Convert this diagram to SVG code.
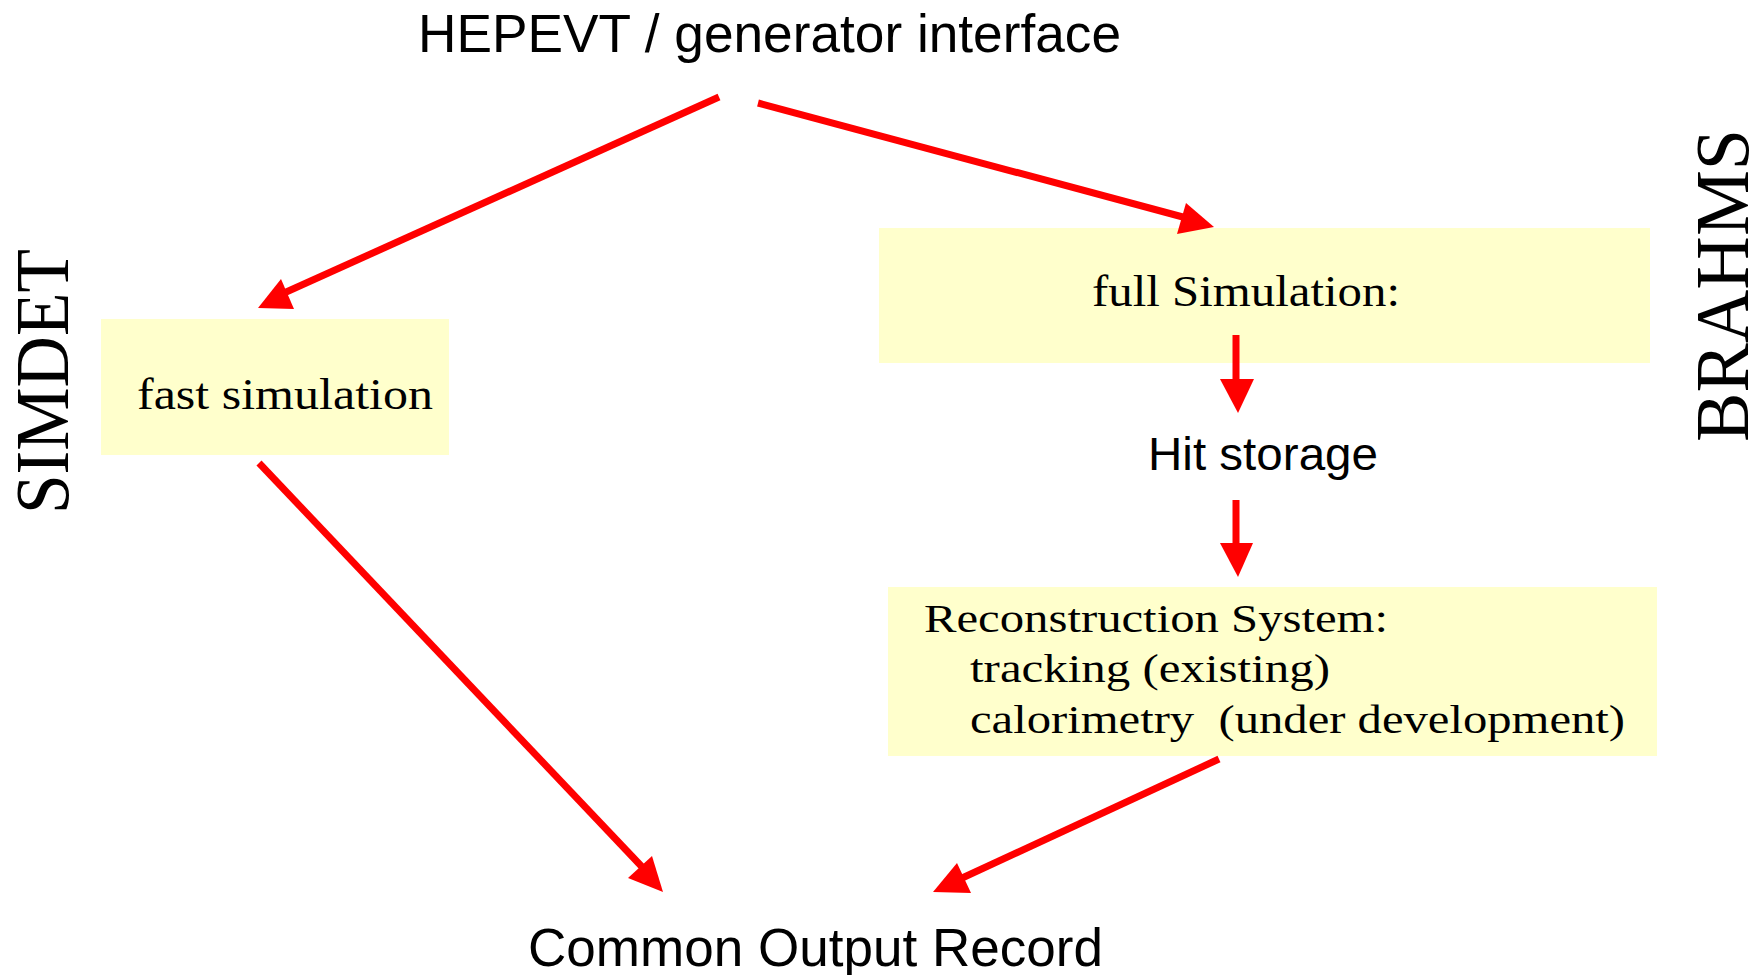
<svg xmlns="http://www.w3.org/2000/svg" width="1762" height="975" viewBox="0 0 1762 975">
<style>
.box{fill:#ffffcc;stroke:none}
.sans{font-family:"Liberation Sans",Arial,sans-serif;fill:#000}
.serif{font-family:"Liberation Serif","Times New Roman",serif;fill:#000}
.ln{stroke:#ff0000;stroke-width:7;fill:none;stroke-linecap:butt}
.hd{fill:#ff0000;stroke:none}
</style>
<rect width="1762" height="975" fill="#ffffff"/>
<g id="hepevt">
<text class="sans" x="418" y="52" font-size="53" textLength="703" lengthAdjust="spacingAndGlyphs">HEPEVT / generator interface</text>
</g>
<g id="simdet-label">
<text class="serif" transform="translate(68,514) rotate(-90)" x="0" y="0" font-size="77" textLength="265" lengthAdjust="spacingAndGlyphs">SIMDET</text>
</g>
<g id="brahms-label">
<text class="serif" transform="translate(1748,442) rotate(-90)" x="0" y="0" font-size="77" textLength="313" lengthAdjust="spacingAndGlyphs">BRAHMS</text>
</g>
<g id="fast-sim">
<rect class="box" x="101" y="319" width="348" height="136"/>
<text class="serif" x="137" y="409" font-size="45" textLength="296" lengthAdjust="spacingAndGlyphs">fast simulation</text>
</g>
<g id="full-sim">
<rect class="box" x="879" y="228" width="771" height="135"/>
<text class="serif" x="1092" y="306" font-size="45" textLength="308" lengthAdjust="spacingAndGlyphs">full Simulation:</text>
</g>
<g id="hit-storage">
<text class="sans" x="1148" y="470" font-size="47" textLength="230" lengthAdjust="spacingAndGlyphs">Hit storage</text>
</g>
<g id="reconstruction">
<rect class="box" x="888" y="587" width="769" height="169"/>
<text class="serif" x="924" y="632" font-size="40" textLength="464" lengthAdjust="spacingAndGlyphs">Reconstruction System:</text>
<text class="serif" x="970" y="682" font-size="40" textLength="360" lengthAdjust="spacingAndGlyphs">tracking (existing)</text>
<text class="serif" x="970" y="733" font-size="40" textLength="655" lengthAdjust="spacingAndGlyphs" xml:space="preserve">calorimetry  (under development)</text>
</g>
<g id="common-output">
<text class="sans" x="528" y="966" font-size="53" textLength="575" lengthAdjust="spacingAndGlyphs">Common Output Record</text>
</g>
<g id="connectors">
<line class="ln" x1="719" y1="97" x2="284" y2="293"/>
<polygon class="hd" points="258,308 281,279 294,309"/>
<line class="ln" x1="758" y1="103" x2="1194" y2="220"/>
<polygon class="hd" points="1186,203 1214,227 1177,234"/>
<line class="ln" x1="1236" y1="335" x2="1236" y2="381"/>
<polygon class="hd" points="1220,379 1254,379 1238,413"/>
<line class="ln" x1="1236" y1="500" x2="1236" y2="545"/>
<polygon class="hd" points="1220,543 1253,543 1238,577"/>
<line class="ln" x1="259" y1="463" x2="645" y2="870"/>
<polygon class="hd" points="652,856 663,892 628,878"/>
<line class="ln" x1="1219" y1="759" x2="960" y2="879"/>
<polygon class="hd" points="957,863 971,893 933,892"/>
</g>
</svg>
